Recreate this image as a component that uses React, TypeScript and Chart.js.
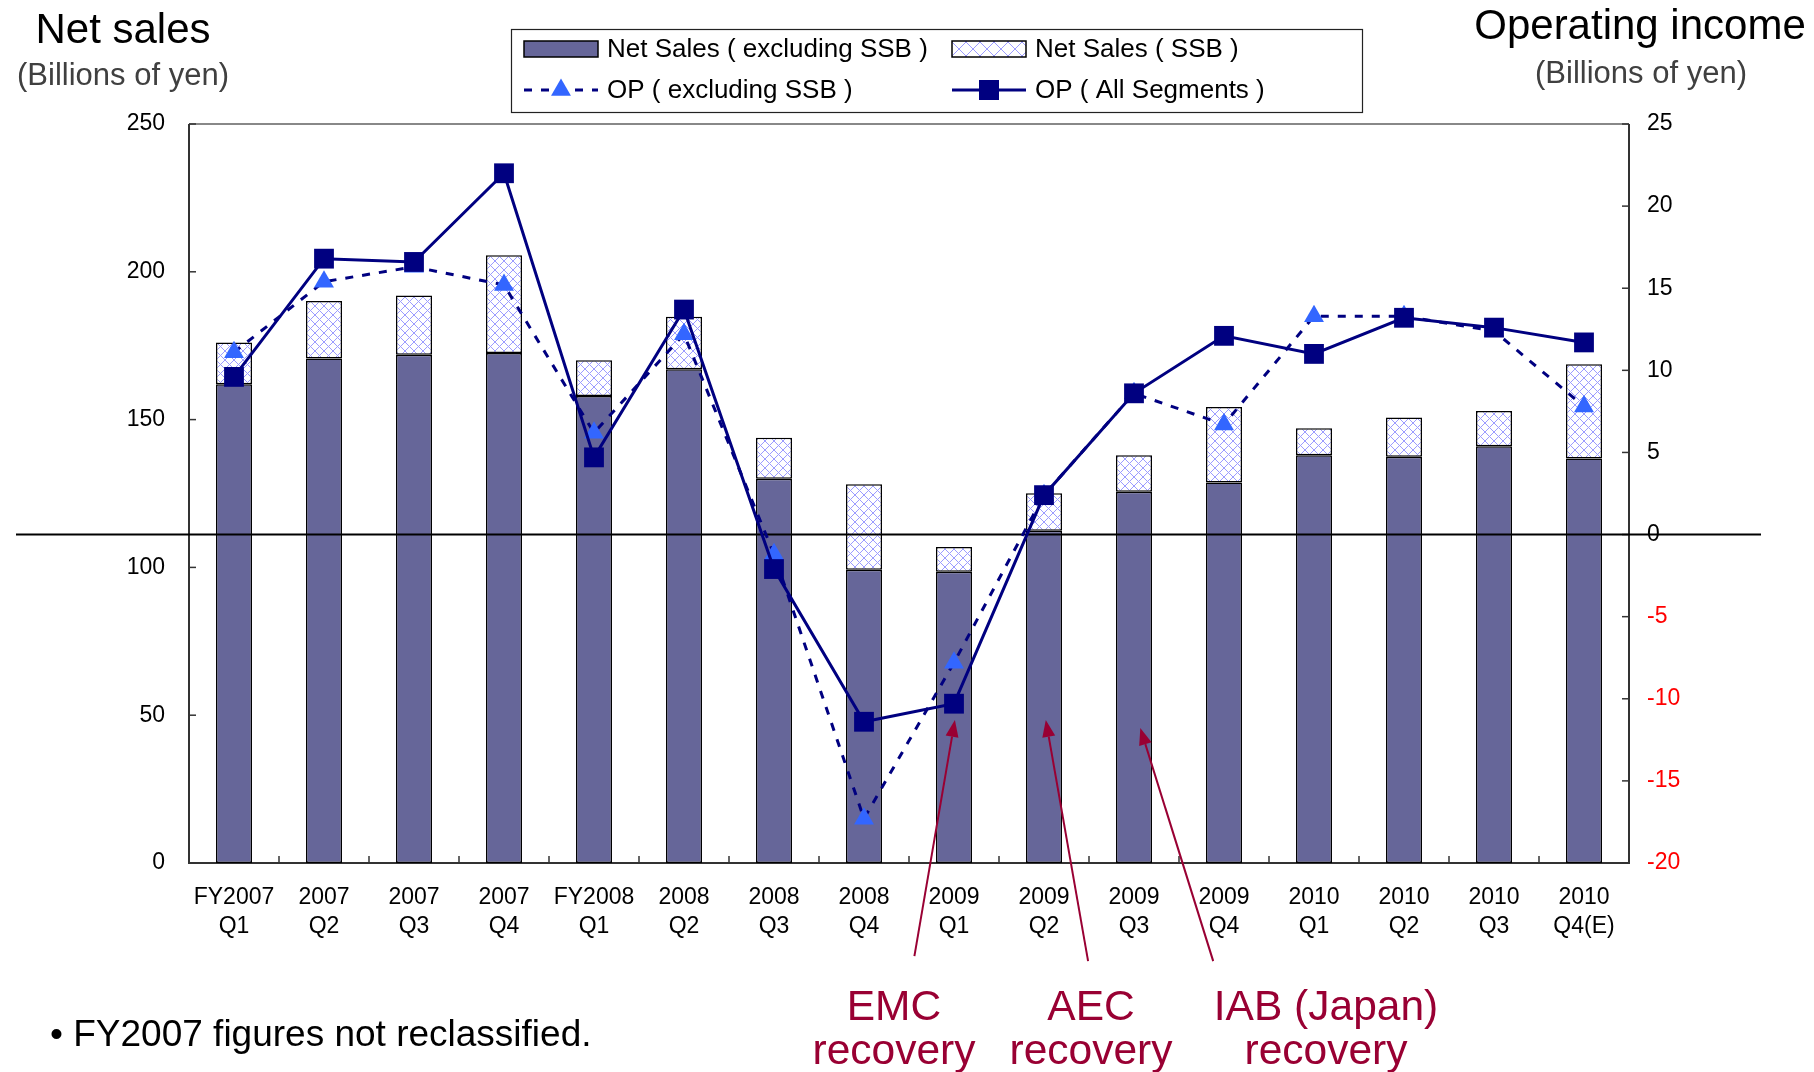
import React, { useEffect, useRef } from 'react';
import { Chart, registerables } from 'chart.js';

Chart.register(...registerables);

const FONT = "'Liberation Sans', Arial, sans-serif";

const categories: string[][] = [
  ['FY2007', 'Q1'], ['2007', 'Q2'], ['2007', 'Q3'], ['2007', 'Q4'],
  ['FY2008', 'Q1'], ['2008', 'Q2'], ['2008', 'Q3'], ['2008', 'Q4'],
  ['2009', 'Q1'], ['2009', 'Q2'], ['2009', 'Q3'], ['2009', 'Q4'],
  ['2010', 'Q1'], ['2010', 'Q2'], ['2010', 'Q3'], ['2010', 'Q4(E)'],
];

// Net sales, billions of yen (left axis)
const netSalesExclSSB = [162.0, 170.7, 171.9, 172.5, 158.0, 167.0, 130.0, 99.2, 98.5, 112.4, 125.6, 128.7, 137.9, 137.4, 141.0, 136.8];
const netSalesSSB = [14.1, 19.4, 20.1, 33.1, 12.1, 17.8, 13.9, 28.9, 8.4, 12.7, 12.3, 25.6, 9.2, 13.3, 11.9, 31.9];

// Operating income, billions of yen (right axis)
const opExclSSB = [11.1, 15.4, 16.3, 15.2, 6.2, 12.2, -1.2, -17.3, -7.8, 2.4, 8.6, 6.7, 13.3, 13.3, 12.4, 7.8];
const opAllSegments = [9.6, 16.8, 16.6, 22.0, 4.7, 13.7, -2.1, -11.4, -10.3, 2.4, 8.6, 12.1, 11.0, 13.2, 12.6, 11.7];

const leftAxis = { min: 0, max: 250, step: 50 };
const rightAxis = { min: -20, max: 25, step: 5 };

const legendLabels = ['Net Sales ( excluding SSB )', 'Net Sales ( SSB )', 'OP ( excluding SSB )', 'OP ( All Segments )'];

// recovery arrows: tip/tail in (category index, left-axis value)
const arrows = [
  { tip: [8.01, 48.4], tail: [7.56, -31.5] },
  { tip: [9.02, 48.4], tail: [9.49, -33.2] },
  { tip: [10.07, 45.7], tail: [10.88, -33.2] },
];
const arrowLabels = [
  { lines: ['EMC', 'recovery'], x: 894 },
  { lines: ['AEC', 'recovery'], x: 1091 },
  { lines: ['IAB (Japan)', 'recovery'], x: 1326 },
];

const NAVY = '#000080';
const TRI = '#3366ff';
const BAR = '#666699';
const MAROON = '#990033';

function makeHatch(ctx: CanvasRenderingContext2D, s: number) {
  const c = document.createElement('canvas');
  c.width = s; c.height = s;
  const g = c.getContext('2d')!;
  g.fillStyle = '#ffffff';
  g.fillRect(0, 0, s, s);
  g.strokeStyle = '#9c9cff';
  g.lineWidth = 1;
  g.beginPath();
  g.moveTo(-1, -1); g.lineTo(s + 1, s + 1);
  g.moveTo(s + 1, -1); g.lineTo(-1, s + 1);
  g.stroke();
  return ctx.createPattern(c, 'repeat')!;
}

export default function App() {
  const ref = useRef<HTMLCanvasElement>(null);

  useEffect(() => {
    const canvas = ref.current!;
    const ctx0 = canvas.getContext('2d')!;
    const hatch = makeHatch(ctx0, 9);
    const hatchLegend = makeHatch(ctx0, 14);

    const framePlugin = {
      id: 'frame',
      beforeDatasetsDraw(chart: any) {
        const { ctx, chartArea: a, scales } = chart;
        ctx.save();
        ctx.lineWidth = 2;
        ctx.strokeStyle = '#888888';
        ctx.beginPath(); ctx.moveTo(a.left, a.top); ctx.lineTo(a.right, a.top); ctx.stroke();
        ctx.strokeStyle = '#333333';
        ctx.beginPath();
        ctx.moveTo(a.left, a.top); ctx.lineTo(a.left, a.bottom); ctx.lineTo(a.right, a.bottom); ctx.lineTo(a.right, a.top);
        ctx.stroke();
        ctx.lineWidth = 1.5;
        for (let v = leftAxis.min; v <= leftAxis.max; v += leftAxis.step) {
          const y = scales.y.getPixelForValue(v);
          ctx.beginPath(); ctx.moveTo(a.left, y); ctx.lineTo(a.left + 7, y); ctx.stroke();
        }
        for (let v = rightAxis.min; v <= rightAxis.max; v += rightAxis.step) {
          const y = scales.y1.getPixelForValue(v);
          ctx.beginPath(); ctx.moveTo(a.right, y); ctx.lineTo(a.right - 7, y); ctx.stroke();
        }
        for (let i = 1; i < categories.length; i++) {
          const x = scales.x.getPixelForValue(i - 0.5);
          ctx.beginPath(); ctx.moveTo(x, a.bottom); ctx.lineTo(x, a.bottom - 7); ctx.stroke();
        }
        ctx.restore();
      },
      beforeDatasetDraw(chart: any, args: any) {
        if (args.index !== 2) return;
        const { ctx, chartArea: a, scales } = chart;
        const y = scales.y1.getPixelForValue(0);
        ctx.save();
        ctx.strokeStyle = '#000000';
        ctx.lineWidth = 2;
        ctx.beginPath(); ctx.moveTo(a.left - 173, y); ctx.lineTo(a.right + 132, y); ctx.stroke();
        ctx.restore();
      },
      afterDraw(chart: any) {
        const { ctx, scales } = chart;
        ctx.save();
        ctx.strokeStyle = MAROON;
        ctx.fillStyle = MAROON;
        ctx.lineWidth = 2;
        arrows.forEach((ar) => {
          const x1 = scales.x.getPixelForValue(ar.tail[0]);
          const y1 = scales.y.getPixelForValue(ar.tail[1]);
          const x2 = scales.x.getPixelForValue(ar.tip[0]);
          const y2 = scales.y.getPixelForValue(ar.tip[1]);
          const ang = Math.atan2(y2 - y1, x2 - x1);
          const L = 17, W = 6.5;
          const bx = x2 - L * Math.cos(ang), by = y2 - L * Math.sin(ang);
          ctx.beginPath(); ctx.moveTo(x1, y1); ctx.lineTo(bx, by); ctx.stroke();
          ctx.beginPath();
          ctx.moveTo(x2, y2);
          ctx.lineTo(bx + W * Math.sin(ang), by - W * Math.cos(ang));
          ctx.lineTo(bx - W * Math.sin(ang), by + W * Math.cos(ang));
          ctx.closePath(); ctx.fill();
        });

        // legend
        const L = { x: 511, y: 29, w: 851, h: 83 };
        ctx.fillStyle = '#ffffff';
        ctx.fillRect(L.x, L.y, L.w, L.h);
        ctx.strokeStyle = '#222222';
        ctx.lineWidth = 1.2;
        ctx.strokeRect(L.x + 0.5, L.y + 0.5, L.w, L.h);
        const cols = [524, 952];
        const rows = [49, 90];
        const sw = 74;
        ctx.font = `26px ${FONT}`;
        ctx.textBaseline = 'middle';
        ctx.textAlign = 'left';
        ctx.fillStyle = BAR; ctx.fillRect(cols[0], rows[0] - 8, sw, 16);
        ctx.strokeStyle = '#000'; ctx.lineWidth = 1.5; ctx.strokeRect(cols[0], rows[0] - 8, sw, 16);
        ctx.fillStyle = hatchLegend; ctx.fillRect(cols[1], rows[0] - 8, sw, 16);
        ctx.strokeRect(cols[1], rows[0] - 8, sw, 16);
        ctx.strokeStyle = NAVY; ctx.lineWidth = 3; ctx.setLineDash([8, 9]);
        ctx.beginPath(); ctx.moveTo(cols[0], rows[1]); ctx.lineTo(cols[0] + sw, rows[1]); ctx.stroke();
        ctx.setLineDash([]);
        const cx = cols[0] + sw / 2, r = 11.5;
        ctx.fillStyle = TRI;
        ctx.beginPath();
        ctx.moveTo(cx, rows[1] - r);
        ctx.lineTo(cx + r * 0.866, rows[1] + r * 0.5);
        ctx.lineTo(cx - r * 0.866, rows[1] + r * 0.5);
        ctx.closePath(); ctx.fill();
        ctx.beginPath(); ctx.moveTo(cols[1], rows[1]); ctx.lineTo(cols[1] + sw, rows[1]); ctx.stroke();
        ctx.fillStyle = NAVY;
        ctx.fillRect(cols[1] + sw / 2 - 10, rows[1] - 10, 20, 20);
        ctx.fillStyle = '#000';
        ctx.fillText(legendLabels[0], cols[0] + sw + 9, rows[0] + 1);
        ctx.fillText(legendLabels[1], cols[1] + sw + 9, rows[0] + 1);
        ctx.fillText(legendLabels[2], cols[0] + sw + 9, rows[1] + 1);
        ctx.fillText(legendLabels[3], cols[1] + sw + 9, rows[1] + 1);
        ctx.restore();
      },
    };

    const tickFont = { family: FONT, size: 23 };

    const chart = new Chart(canvas, {
      type: 'bar',
      data: {
        labels: categories,
        datasets: [
          {
            type: 'bar', label: legendLabels[0], data: netSalesExclSSB, yAxisID: 'y',
            backgroundColor: BAR, borderColor: '#000', borderWidth: 1.5, borderSkipped: false,
            barPercentage: 0.4, categoryPercentage: 1, order: 3, stack: 's',
          },
          {
            type: 'bar', label: legendLabels[1], data: netSalesSSB, yAxisID: 'y',
            backgroundColor: hatch, borderColor: '#000', borderWidth: 1.5, borderSkipped: false,
            barPercentage: 0.4, categoryPercentage: 1, order: 3, stack: 's',
          },
          {
            type: 'line', label: legendLabels[2], data: opExclSSB, yAxisID: 'y1',
            borderColor: NAVY, borderWidth: 3, borderDash: [8, 9], tension: 0, fill: false,
            pointStyle: 'triangle', pointRadius: 11.5, pointBackgroundColor: TRI, pointBorderWidth: 0,
            order: 2,
          },
          {
            type: 'line', label: legendLabels[3], data: opAllSegments, yAxisID: 'y1',
            borderColor: NAVY, borderWidth: 3, tension: 0, fill: false,
            pointStyle: 'rect', pointRadius: 14, pointBackgroundColor: NAVY, pointBorderWidth: 0,
            order: 1,
          },
        ] as any,
      },
      options: {
        responsive: false,
        animation: false,
        layout: { padding: { top: 124, left: 0, right: 0, bottom: 0 } },
        plugins: { legend: { display: false }, tooltip: { enabled: false }, title: { display: false } },
        scales: {
          x: {
            stacked: true,
            grid: { display: false, drawTicks: false },
            border: { display: false },
            ticks: { autoSkip: false, maxRotation: 0, minRotation: 0, color: '#000', font: { ...tickFont, lineHeight: 1.27 }, padding: 20 },
            afterFit: (s: any) => { s.height = 209; },
          },
          y: {
            stacked: true, position: 'left', min: leftAxis.min, max: leftAxis.max,
            grid: { display: false, drawTicks: false },
            border: { display: false },
            ticks: { stepSize: leftAxis.step, color: '#000', font: tickFont, padding: 24 },
            afterFit: (s: any) => { s.width = 189; },
          },
          y1: {
            position: 'right', min: rightAxis.min, max: rightAxis.max,
            grid: { display: false, drawTicks: false },
            border: { display: false },
            ticks: {
              stepSize: rightAxis.step, font: tickFont, padding: 18,
              color: (c: any) => (c.tick && c.tick.value < 0 ? '#ff0000' : '#000000'),
            },
            afterFit: (s: any) => { s.width = 185; },
          },
        },
      } as any,
      plugins: [framePlugin],
    });
    return () => chart.destroy();
  }, []);

  const abs = (x: number, y: number, extra: React.CSSProperties = {}): React.CSSProperties => ({
    position: 'absolute', left: x, top: y, transform: 'translate(-50%, -50%)', whiteSpace: 'nowrap',
    lineHeight: 1, fontFamily: FONT, ...extra,
  });

  return (
    <div style={{ position: 'absolute', left: 0, top: 0, width: 1814, height: 1072, background: '#fff', overflow: 'hidden' }}>
      <canvas ref={ref} width={1814} height={1072} style={{ position: 'absolute', left: 0, top: 0, width: 1814, height: 1072 }} />
      <div style={abs(123, 29, { fontSize: 42, color: '#000' })}>Net sales</div>
      <div style={abs(123, 74, { fontSize: 31, color: '#404040' })}>(Billions of yen)</div>
      <div style={abs(1640, 25, { fontSize: 42, color: '#000' })}>Operating income</div>
      <div style={abs(1641, 72, { fontSize: 31, color: '#404040' })}>(Billions of yen)</div>
      <div style={{ position: 'absolute', left: 50, top: 1033, transform: 'translateY(-50%)', fontFamily: FONT, fontSize: 37, lineHeight: 1, whiteSpace: 'nowrap', color: '#000' }}>
        • FY2007 figures not reclassified.
      </div>
      {arrowLabels.map((l, i) => (
        <div key={i} style={{ position: 'absolute', left: l.x, top: 984, transform: 'translateX(-50%)', fontFamily: FONT, fontSize: 42.5, lineHeight: '44px', color: MAROON, textAlign: 'center', whiteSpace: 'nowrap' }}>
          {l.lines[0]}<br />{l.lines[1]}
        </div>
      ))}
    </div>
  );
}
